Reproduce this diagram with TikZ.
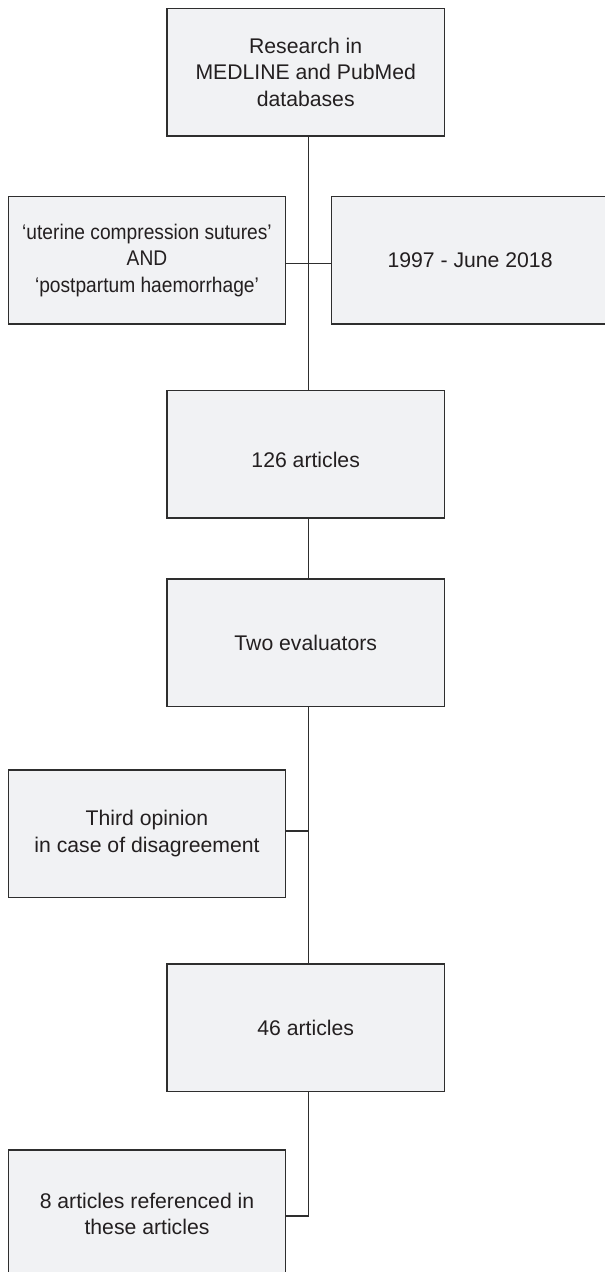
\documentclass[tikz,border=0pt]{standalone}
\usepackage{fontspec}
\setmainfont{Liberation Sans}
\newfontfamily\narrowsans[FakeStretch=0.905]{Liberation Sans}
\definecolor{boxfill}{HTML}{F1F2F4}
\definecolor{ink}{HTML}{231F20}
\definecolor{edge}{HTML}{2E2E2E}
\tikzset{
  box/.style={draw=edge, fill=boxfill, line width=1.3pt, rectangle,
    minimum width=277.4pt, minimum height=127.6pt, inner sep=0pt,
    align=center, text=ink, font=\fontsize{21.2}{26.7}\selectfont},
  link/.style={draw=edge, line width=1.3pt},
}
\begin{document}
\begin{tikzpicture}[x=1pt,y=-1pt]
\clip (0,0) rectangle (605,1272);
\fill[white] (0,0) rectangle (605,1272);
% nodes
\node[box] (top) at (305.7,72.2) {Research in\\MEDLINE and PubMed\\databases};
\node[box] (terms) at (147,260.3) {\narrowsans ‘uterine compression sutures’\\\narrowsans AND\\\narrowsans ‘postpartum haemorrhage’};
\node[box] (dates) at (470.1,260.3) {1997 - June 2018};
\node[box, text height=25.6pt, text depth=0pt] (n126) at (305.7,454.3) {126 articles};
\node[box] (two) at (305.7,642.9) {Two evaluators};
\node[box] (third) at (147,833.8) {Third opinion\\in case of disagreement};
\node[box] (n46) at (305.7,1027.7) {46 articles};
\node[box] (eight) at (147,1213.8) {8 articles referenced in\\these articles};
% helper coordinates on the trunk
\coordinate (trunkA) at ([xshift=3pt]two.south);
\coordinate (trunkB) at ([xshift=3pt]n46.south);
\coordinate (thirdE) at ([yshift=2.8pt]third.east);
\coordinate (eightE) at ([yshift=-2.2pt]eight.east);
\coordinate (thj) at (thirdE -| trunkA);
\coordinate (ej) at (eightE -| trunkB);
% connectors
\draw[link] ([xshift=3pt]top.south) -- ([xshift=3pt]n126.north);
\draw[link] ([yshift=-3pt]terms.east) -- ([yshift=-3pt]dates.west);
\draw[link] ([xshift=3pt]n126.south) -- ([xshift=3pt]two.north);
\draw[link] (trunkA) -- ([xshift=3pt]n46.north);
\draw[link] (thirdE) -- (thj);
\draw[link] (trunkB) -- (ej) -- (eightE);
\end{tikzpicture}
\end{document}
